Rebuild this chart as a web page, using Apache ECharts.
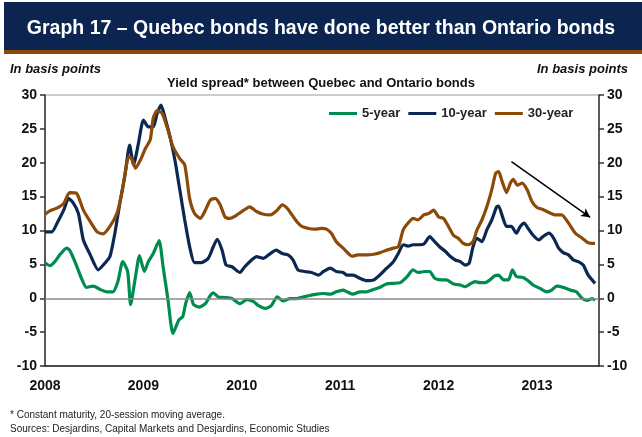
<!DOCTYPE html>
<html>
<head>
<meta charset="utf-8">
<script src="https://cdn.jsdelivr.net/npm/echarts@6/dist/echarts.min.js"></script>
<style>
  html, body { margin: 0; padding: 0; background: #fff; }
  #chart { width: 642px; height: 437px; }
</style>
</head>
<body>
<div id="chart"></div>
<script>
// Yield spread between Quebec and Ontario bonds, in basis points (x = decimal year)
const fiveYear = [
  [2008.00,5.2],[2008.05,4.8],[2008.10,5.4],[2008.15,6.4],[2008.22,7.4],[2008.25,7.1],[2008.31,5.2],
  [2008.37,2.95],[2008.42,1.6],[2008.49,1.8],[2008.56,1.3],[2008.63,0.95],[2008.69,0.95],[2008.74,2.45],
  [2008.79,5.4],[2008.84,3.95],[2008.87,-0.95],[2008.92,3.2],[2008.96,6.3],[2009.01,3.95],[2009.05,5.4],
  [2009.10,6.6],[2009.16,8.5],[2009.20,4.65],[2009.25,-0.25],[2009.30,-5.2],[2009.36,-3.2],[2009.40,-2.7],
  [2009.43,-0.75],[2009.47,0.85],[2009.51,-0.95],[2009.57,-1.3],[2009.63,-0.8],[2009.68,0.4],[2009.71,0.8],
  [2009.76,0.2],[2009.83,0.1],[2009.90,-0.05],[2009.98,-0.8],[2010.05,-0.2],[2010.12,-0.5],[2010.17,-1.1],
  [2010.24,-1.5],[2010.30,-1.1],[2010.36,0.2],[2010.42,-0.4],[2010.49,-0.05],[2010.56,-0.05],[2010.63,0.2],
  [2010.69,0.4],[2010.76,0.6],[2010.83,0.7],[2010.90,0.6],[2010.96,0.95],[2011.03,1.2],[2011.07,0.95],
  [2011.13,0.6],[2011.20,0.95],[2011.27,0.95],[2011.34,1.3],[2011.40,1.6],[2011.47,2.1],[2011.54,2.2],
  [2011.61,2.3],[2011.68,3.2],[2011.74,4.2],[2011.79,3.8],[2011.86,3.95],[2011.91,3.95],[2011.96,2.95],
  [2012.03,2.7],[2012.08,2.7],[2012.15,2.1],[2012.22,1.95],[2012.27,1.7],[2012.32,2.1],[2012.37,2.45],
  [2012.42,2.3],[2012.47,2.3],[2012.52,2.7],[2012.57,3.3],[2012.61,3.4],[2012.66,2.7],[2012.71,2.7],
  [2012.75,4.2],[2012.79,3.2],[2012.85,3.1],[2012.90,2.7],[2012.96,1.95],[2013.03,1.45],[2013.10,0.95],
  [2013.15,1.2],[2013.20,1.8],[2013.27,1.6],[2013.34,1.2],[2013.40,0.95],[2013.46,-0.05],[2013.51,-0.3],
  [2013.56,-0.05],[2013.59,-0.3]
];

const tenYear = [
  [2008.00,9.8],[2008.07,9.8],[2008.13,11.3],[2008.19,13.0],[2008.24,14.75],[2008.29,14.0],[2008.34,12.5],
  [2008.39,8.6],[2008.46,6.4],[2008.54,4.2],[2008.61,5.2],[2008.66,6.15],[2008.71,9.6],[2008.76,14.0],
  [2008.81,17.95],[2008.86,22.6],[2008.90,19.7],[2008.95,22.9],[2009.00,26.3],[2009.05,25.3],[2009.10,25.3],
  [2009.14,27.3],[2009.18,28.5],[2009.22,26.6],[2009.27,23.85],[2009.32,20.4],[2009.37,16.0],[2009.42,11.55],
  [2009.47,7.6],[2009.52,5.25],[2009.59,5.25],[2009.66,5.9],[2009.71,7.6],[2009.75,8.7],[2009.80,7.1],
  [2009.84,4.9],[2009.90,4.65],[2009.98,3.8],[2010.03,4.65],[2010.10,5.65],[2010.15,6.15],[2010.22,5.9],
  [2010.29,6.6],[2010.35,7.1],[2010.41,6.6],[2010.47,6.4],[2010.52,5.65],[2010.57,4.2],[2010.64,3.95],
  [2010.71,3.8],[2010.78,3.4],[2010.83,3.95],[2010.90,4.45],[2010.96,3.95],[2011.03,3.8],[2011.07,3.4],
  [2011.13,3.4],[2011.20,2.95],[2011.27,2.6],[2011.34,2.7],[2011.40,3.4],[2011.47,4.4],[2011.54,5.4],
  [2011.59,6.6],[2011.64,7.9],[2011.69,7.7],[2011.74,7.9],[2011.79,7.9],[2011.85,8.0],[2011.91,9.1],
  [2011.96,8.35],[2012.01,7.6],[2012.07,6.9],[2012.12,6.15],[2012.17,5.65],[2012.22,5.4],[2012.27,4.9],
  [2012.31,5.15],[2012.35,7.6],[2012.39,8.85],[2012.44,8.35],[2012.49,10.1],[2012.54,11.55],[2012.59,13.5],
  [2012.61,13.6],[2012.65,12.0],[2012.69,10.6],[2012.74,10.6],[2012.79,9.6],[2012.83,10.6],[2012.87,11.1],
  [2012.91,10.3],[2012.96,9.3],[2013.02,8.6],[2013.06,9.1],[2013.12,9.6],[2013.17,8.85],[2013.22,7.4],
  [2013.27,6.7],[2013.32,6.4],[2013.37,5.65],[2013.42,5.4],[2013.47,4.9],[2013.52,3.4],[2013.59,2.2]
];

const thirtyYear = [
  [2008.00,12.4],[2008.05,12.9],[2008.12,13.3],[2008.19,14.0],[2008.25,15.6],[2008.32,15.5],[2008.39,13.0],
  [2008.46,11.3],[2008.53,9.8],[2008.59,9.5],[2008.66,10.6],[2008.73,12.5],[2008.78,15.5],[2008.82,18.9],
  [2008.85,20.9],[2008.88,20.6],[2008.92,19.2],[2008.97,20.4],[2009.02,22.1],[2009.07,23.4],[2009.10,26.6],
  [2009.14,27.7],[2009.19,27.3],[2009.25,24.8],[2009.30,22.4],[2009.37,20.6],[2009.42,19.7],[2009.47,14.7],
  [2009.52,12.5],[2009.58,11.8],[2009.63,13.0],[2009.68,14.5],[2009.73,14.75],[2009.78,13.8],[2009.83,12.0],
  [2009.88,11.8],[2009.95,12.3],[2010.02,13.0],[2010.08,13.5],[2010.15,12.8],[2010.22,12.4],[2010.29,12.3],
  [2010.36,13.0],[2010.41,13.8],[2010.46,13.3],[2010.51,12.3],[2010.56,11.3],[2010.61,10.6],[2010.68,10.3],
  [2010.74,10.2],[2010.81,10.3],[2010.86,10.2],[2010.91,9.6],[2010.96,8.35],[2011.03,7.4],[2011.09,6.5],
  [2011.12,6.2],[2011.18,6.4],[2011.27,6.4],[2011.34,6.5],[2011.40,6.7],[2011.47,7.1],[2011.54,7.4],
  [2011.59,7.6],[2011.64,10.1],[2011.69,11.1],[2011.74,11.8],[2011.79,11.55],[2011.85,12.3],[2011.90,12.5],
  [2011.95,13.0],[2012.00,12.0],[2012.05,11.8],[2012.10,10.6],[2012.15,9.3],[2012.20,8.85],[2012.25,8.1],
  [2012.30,7.9],[2012.35,8.35],[2012.39,10.1],[2012.44,11.55],[2012.49,13.5],[2012.54,16.0],[2012.58,18.45],
  [2012.61,18.7],[2012.64,17.5],[2012.69,15.6],[2012.73,17.0],[2012.76,17.55],[2012.80,16.7],[2012.85,17.0],
  [2012.90,16.0],[2012.95,14.25],[2013.00,13.4],[2013.06,13.1],[2013.13,12.6],[2013.18,12.3],[2013.25,12.3],
  [2013.32,11.1],[2013.39,9.6],[2013.46,8.85],[2013.52,8.2],[2013.59,8.1]
];

// Downward trend arrow drawn over the 2012-2013 decline: [year, basis points]
const trendArrow = [[2012.74, 20.15], [2013.54, 11.95]];

const seriesNames = ['5-year', '10-year', '30-year'];
const seriesColors = ['#008c50', '#0c2852', '#8c4a08'];
const yTicks = { min: -10, max: 30, step: 5 };
const xRange = { min: 2008, max: 2013.63 };

const FONT = '"Liberation Sans", Arial, sans-serif';
const chart = echarts.init(document.getElementById('chart'), null, { renderer: 'canvas' });

function yAxisDef(position) {
  return {
    type: 'value',
    position: position,
    min: yTicks.min, max: yTicks.max, interval: yTicks.step,
    axisLine: { show: true, lineStyle: { color: '#333', width: 1.5 } },
    axisTick: { show: true, inside: false, length: 5, lineStyle: { color: '#333', width: 1.5 } },
    axisLabel: { color: '#111', fontFamily: FONT, fontWeight: 'bold', fontSize: 14, margin: 8 },
    splitLine: { show: false }
  };
}

const lineSeries = [fiveYear, tenYear, thirtyYear].map((d, i) => ({
  name: seriesNames[i],
  type: 'line',
  data: d,
  showSymbol: false,
  smooth: 0.2,
  z: 3 + i,
  lineStyle: { color: seriesColors[i], width: 3.2 },
  itemStyle: { color: seriesColors[i] }
}));

chart.setOption({
  animation: false,
  backgroundColor: '#ffffff',
  grid: { left: 45, right: 43, top: 95, bottom: 71, show: true, borderColor: '#9a9a9a', borderWidth: 1 },
  legend: {
    data: seriesNames,
    left: 324, top: 102,
    icon: 'rect', itemWidth: 28, itemHeight: 3, itemGap: 8,
    textStyle: { fontFamily: FONT, fontWeight: 'bold', fontSize: 13, color: '#222' }
  },
  xAxis: {
    type: 'value',
    min: xRange.min, max: xRange.max, interval: 1,
    axisLine: { show: true, onZero: false, lineStyle: { color: '#222', width: 1.5 } },
    axisTick: { show: false },
    splitLine: { show: false },
    axisLabel: {
      color: '#111', fontFamily: FONT, fontWeight: 'bold', fontSize: 14, margin: 13,
      showMaxLabel: false,
      formatter: v => (Math.abs(v - Math.round(v)) < 1e-6 ? String(Math.round(v)) : '')
    }
  },
  yAxis: [yAxisDef('left'), yAxisDef('right')],
  series: [
    {
      // zero reference line
      type: 'line', data: [], z: 2, silent: true,
      markLine: {
        silent: true, animation: false,
        label: { show: false },
        data: [
          [{ coord: [xRange.min, 0], symbol: 'none' }, { coord: [xRange.max, 0], symbol: 'none' }]
        ],
        lineStyle: { color: '#8a8a8a', width: 1.5, type: 'solid' }
      }
    },
    ...lineSeries,
    {
      // trend arrow
      type: 'line', data: [], z: 8, silent: true,
      markLine: {
        silent: true, animation: false,
        label: { show: false },
        symbol: ['none', 'arrow'], symbolSize: [7, 9],
        data: [[{ coord: trendArrow[0] }, { coord: trendArrow[1] }]],
        lineStyle: { color: '#000', width: 1.5, type: 'solid' }
      }
    }
  ],
  graphic: [
    { type: 'rect', shape: { x: 4, y: 2, width: 638, height: 48 }, style: { fill: '#0b2550' } },
    { type: 'rect', shape: { x: 4, y: 50, width: 638, height: 4 }, style: { fill: '#8a4a08' } },
    {
      type: 'text', left: 'center', top: 19,
      style: { text: 'Graph 17 \u2013 Quebec bonds have done better than Ontario bonds',
               fill: '#fff', font: 'bold 19.5px ' + FONT }
    },
    { type: 'text', left: 10, top: 63,
      style: { text: 'In basis points', fill: '#111', font: 'italic bold 13px ' + FONT } },
    { type: 'text', right: 14, top: 63,
      style: { text: 'In basis points', fill: '#111', font: 'italic bold 13px ' + FONT } },
    { type: 'text', left: 'center', top: 77,
      style: { text: 'Yield spread* between Quebec and Ontario bonds', fill: '#111', font: 'bold 13px ' + FONT } },
    { type: 'text', left: 10, top: 410,
      style: { text: '* Constant maturity, 20-session moving average.', fill: '#222', font: '10px ' + FONT } },
    { type: 'text', left: 10, top: 424,
      style: { text: 'Sources: Desjardins, Capital Markets and Desjardins, Economic Studies', fill: '#222', font: '10px ' + FONT } }
  ]
});
</script>
</body>
</html>
